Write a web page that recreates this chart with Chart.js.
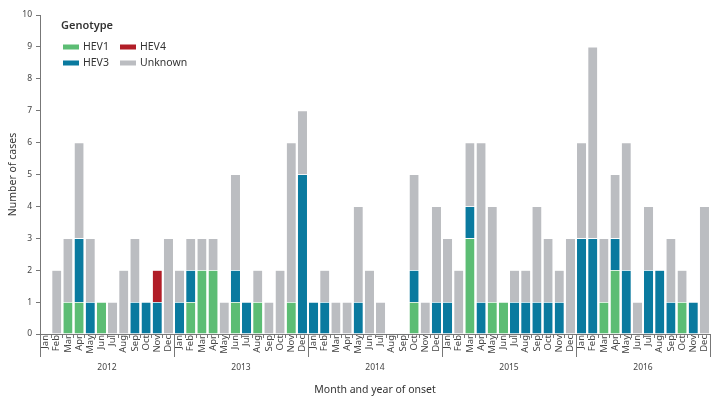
<!DOCTYPE html>
<html>
<head>
<meta charset="utf-8">
<script src="https://cdn.jsdelivr.net/npm/chart.js@4.4.1/dist/chart.umd.min.js"></script>
<style>
  html, body { margin: 0; padding: 0; background: #fff; }
  #wrap { width: 725px; height: 408px; position: relative; }
</style>
</head>
<body>
<div id="wrap"><canvas id="grafico" width="725" height="408"></canvas></div>
<script>
const years = ['2012', '2013', '2014', '2015', '2016'];
const monthNames = ['Jan', 'Feb', 'Mar', 'Apr', 'May', 'Jun', 'Jul', 'Aug', 'Sep', 'Oct', 'Nov', 'Dec'];

// cases per month, Jan 2012 .. Dec 2016
const hev1 = [
  0, 0, 1, 1, 0, 1, 0, 0, 0, 0, 0, 0,
  0, 1, 2, 2, 0, 1, 0, 1, 0, 0, 1, 0,
  0, 0, 0, 0, 0, 0, 0, 0, 0, 1, 0, 0,
  0, 0, 3, 0, 1, 1, 0, 0, 0, 0, 0, 0,
  0, 0, 1, 2, 0, 0, 0, 0, 0, 1, 0, 0
];
const hev3 = [
  0, 0, 0, 2, 1, 0, 0, 0, 1, 1, 1, 0,
  1, 1, 0, 0, 0, 1, 1, 0, 0, 0, 0, 5,
  1, 1, 0, 0, 1, 0, 0, 0, 0, 1, 0, 1,
  1, 0, 1, 1, 0, 0, 1, 1, 1, 1, 1, 0,
  3, 3, 0, 1, 2, 0, 2, 2, 1, 0, 1, 0
];
const hev4 = [
  0, 0, 0, 0, 0, 0, 0, 0, 0, 0, 1, 0,
  0, 0, 0, 0, 0, 0, 0, 0, 0, 0, 0, 0,
  0, 0, 0, 0, 0, 0, 0, 0, 0, 0, 0, 0,
  0, 0, 0, 0, 0, 0, 0, 0, 0, 0, 0, 0,
  0, 0, 0, 0, 0, 0, 0, 0, 0, 0, 0, 0
];
const unknown = [
  0, 2, 2, 3, 2, 0, 1, 2, 2, 0, 0, 3,
  1, 1, 1, 1, 1, 3, 0, 1, 1, 2, 5, 2,
  0, 1, 1, 1, 3, 2, 1, 0, 0, 3, 1, 3,
  2, 2, 2, 5, 3, 0, 1, 1, 3, 2, 1, 3,
  3, 6, 2, 2, 4, 1, 2, 0, 2, 1, 0, 4
];
const yTicks = [0, 1, 2, 3, 4, 5, 6, 7, 8, 9, 10];

const labels = [];
years.forEach(y => monthNames.forEach(m => labels.push(m)));

const FONT = '"Noto Sans", "Open Sans", sans-serif';
const colours = { hev1: '#5cbd74', hev3: '#0a7a9f', hev4: '#b11d27', unknown: '#bbbdc1' };

// legend drawn inside the plot, 2 x 2
const legendPlugin = {
  id: 'genotypeLegend',
  afterDraw(chart) {
    const ctx = chart.ctx;
    ctx.save();
    ctx.fillStyle = '#333';
    ctx.font = '600 11px ' + FONT;
    ctx.textBaseline = 'middle';
    ctx.fillText('Genotype', 61, 26);
    const order = [[0, 0, 0], [2, 1, 0], [1, 0, 1], [3, 1, 1]];
    ctx.font = '10.5px ' + FONT;
    order.forEach(([di, col, row]) => {
      const ds = chart.data.datasets[di];
      const x = 63 + col * 57;
      const y = 47 + row * 16;
      ctx.fillStyle = ds.backgroundColor;
      ctx.fillRect(x, y - 2.5, 16, 5);
      ctx.fillStyle = '#333';
      ctx.fillText(ds.label, x + 20, y);
    });
    ctx.restore();
  }
};

// year separators and year labels under the month labels
const yearPlugin = {
  id: 'yearAxis',
  afterDraw(chart) {
    const ctx = chart.ctx;
    const xs = chart.scales.x;
    const bottom = chart.chartArea.bottom;
    const step = xs.getPixelForValue(1) - xs.getPixelForValue(0);
    ctx.save();
    ctx.strokeStyle = '#777';
    ctx.lineWidth = 1;
    for (let i = 0; i <= years.length; i++) {
      const x = Math.round(xs.getPixelForValue(i * 12) - step / 2) + 0.5;
      ctx.beginPath();
      ctx.moveTo(x, bottom);
      ctx.lineTo(x, bottom + 23);
      ctx.stroke();
    }
    ctx.fillStyle = '#444';
    ctx.font = '8.5px ' + FONT;
    ctx.textAlign = 'center';
    ctx.textBaseline = 'middle';
    years.forEach((y, i) => {
      const x = (xs.getPixelForValue(i * 12) + xs.getPixelForValue(i * 12 + 11)) / 2;
      ctx.fillText(y, x, bottom + 34);
    });
    ctx.restore();
  }
};

const mk = (label, data, colour) => ({
  label: label,
  data: data,
  backgroundColor: colour,
  borderColor: '#ffffff',
  borderWidth: { top: 0.6 },
  borderSkipped: 'bottom',
  barPercentage: 0.82,
  categoryPercentage: 1
});

const grafico = new Chart(document.getElementById('grafico').getContext('2d'), {
  type: 'bar',
  data: {
    labels: labels,
    datasets: [
      mk('HEV1', hev1, colours.hev1),
      mk('HEV3', hev3, colours.hev3),
      mk('HEV4', hev4, colours.hev4),
      mk('Unknown', unknown, colours.unknown)
    ]
  },
  options: {
    responsive: false,
    animation: false,
    devicePixelRatio: 1,
    layout: { padding: { top: 15, right: 15, left: 7, bottom: 0 } },
    plugins: {
      legend: { display: false },
      tooltip: { enabled: false }
    },
    scales: {
      x: {
        stacked: true,
        offset: true,
        afterFit(scale) { scale.height = 74; },
        border: { color: '#777', width: 1 },
        grid: { display: true, drawOnChartArea: false, offset: true, tickLength: 4, color: '#777' },
        ticks: {
          autoSkip: false,
          maxRotation: 90,
          minRotation: 90,
          padding: -3,
          color: '#444',
          font: { family: FONT, size: 9.5 }
        },
        title: {
          display: true,
          text: 'Month and year of onset',
          color: '#333',
          font: { family: FONT, size: 10.5 },
          padding: { top: 0, bottom: 12 }
        }
      },
      y: {
        stacked: true,
        min: 0,
        max: 10,
        afterFit(scale) { scale.width = 33; },
        afterBuildTicks(scale) { scale.ticks = yTicks.map(v => ({ value: v })); },
        border: { color: '#777', width: 1 },
        grid: { display: true, drawOnChartArea: false, tickLength: 4, color: '#777' },
        ticks: {
          autoSkip: false,
          padding: 4,
          color: '#444',
          font: { family: FONT, size: 8.5 }
        },
        title: {
          display: true,
          text: 'Number of cases',
          color: '#333',
          font: { family: FONT, size: 10.5 },
          padding: { top: 0, bottom: 0 }
        }
      }
    }
  },
  plugins: [legendPlugin, yearPlugin]
});
</script>
</body>
</html>
